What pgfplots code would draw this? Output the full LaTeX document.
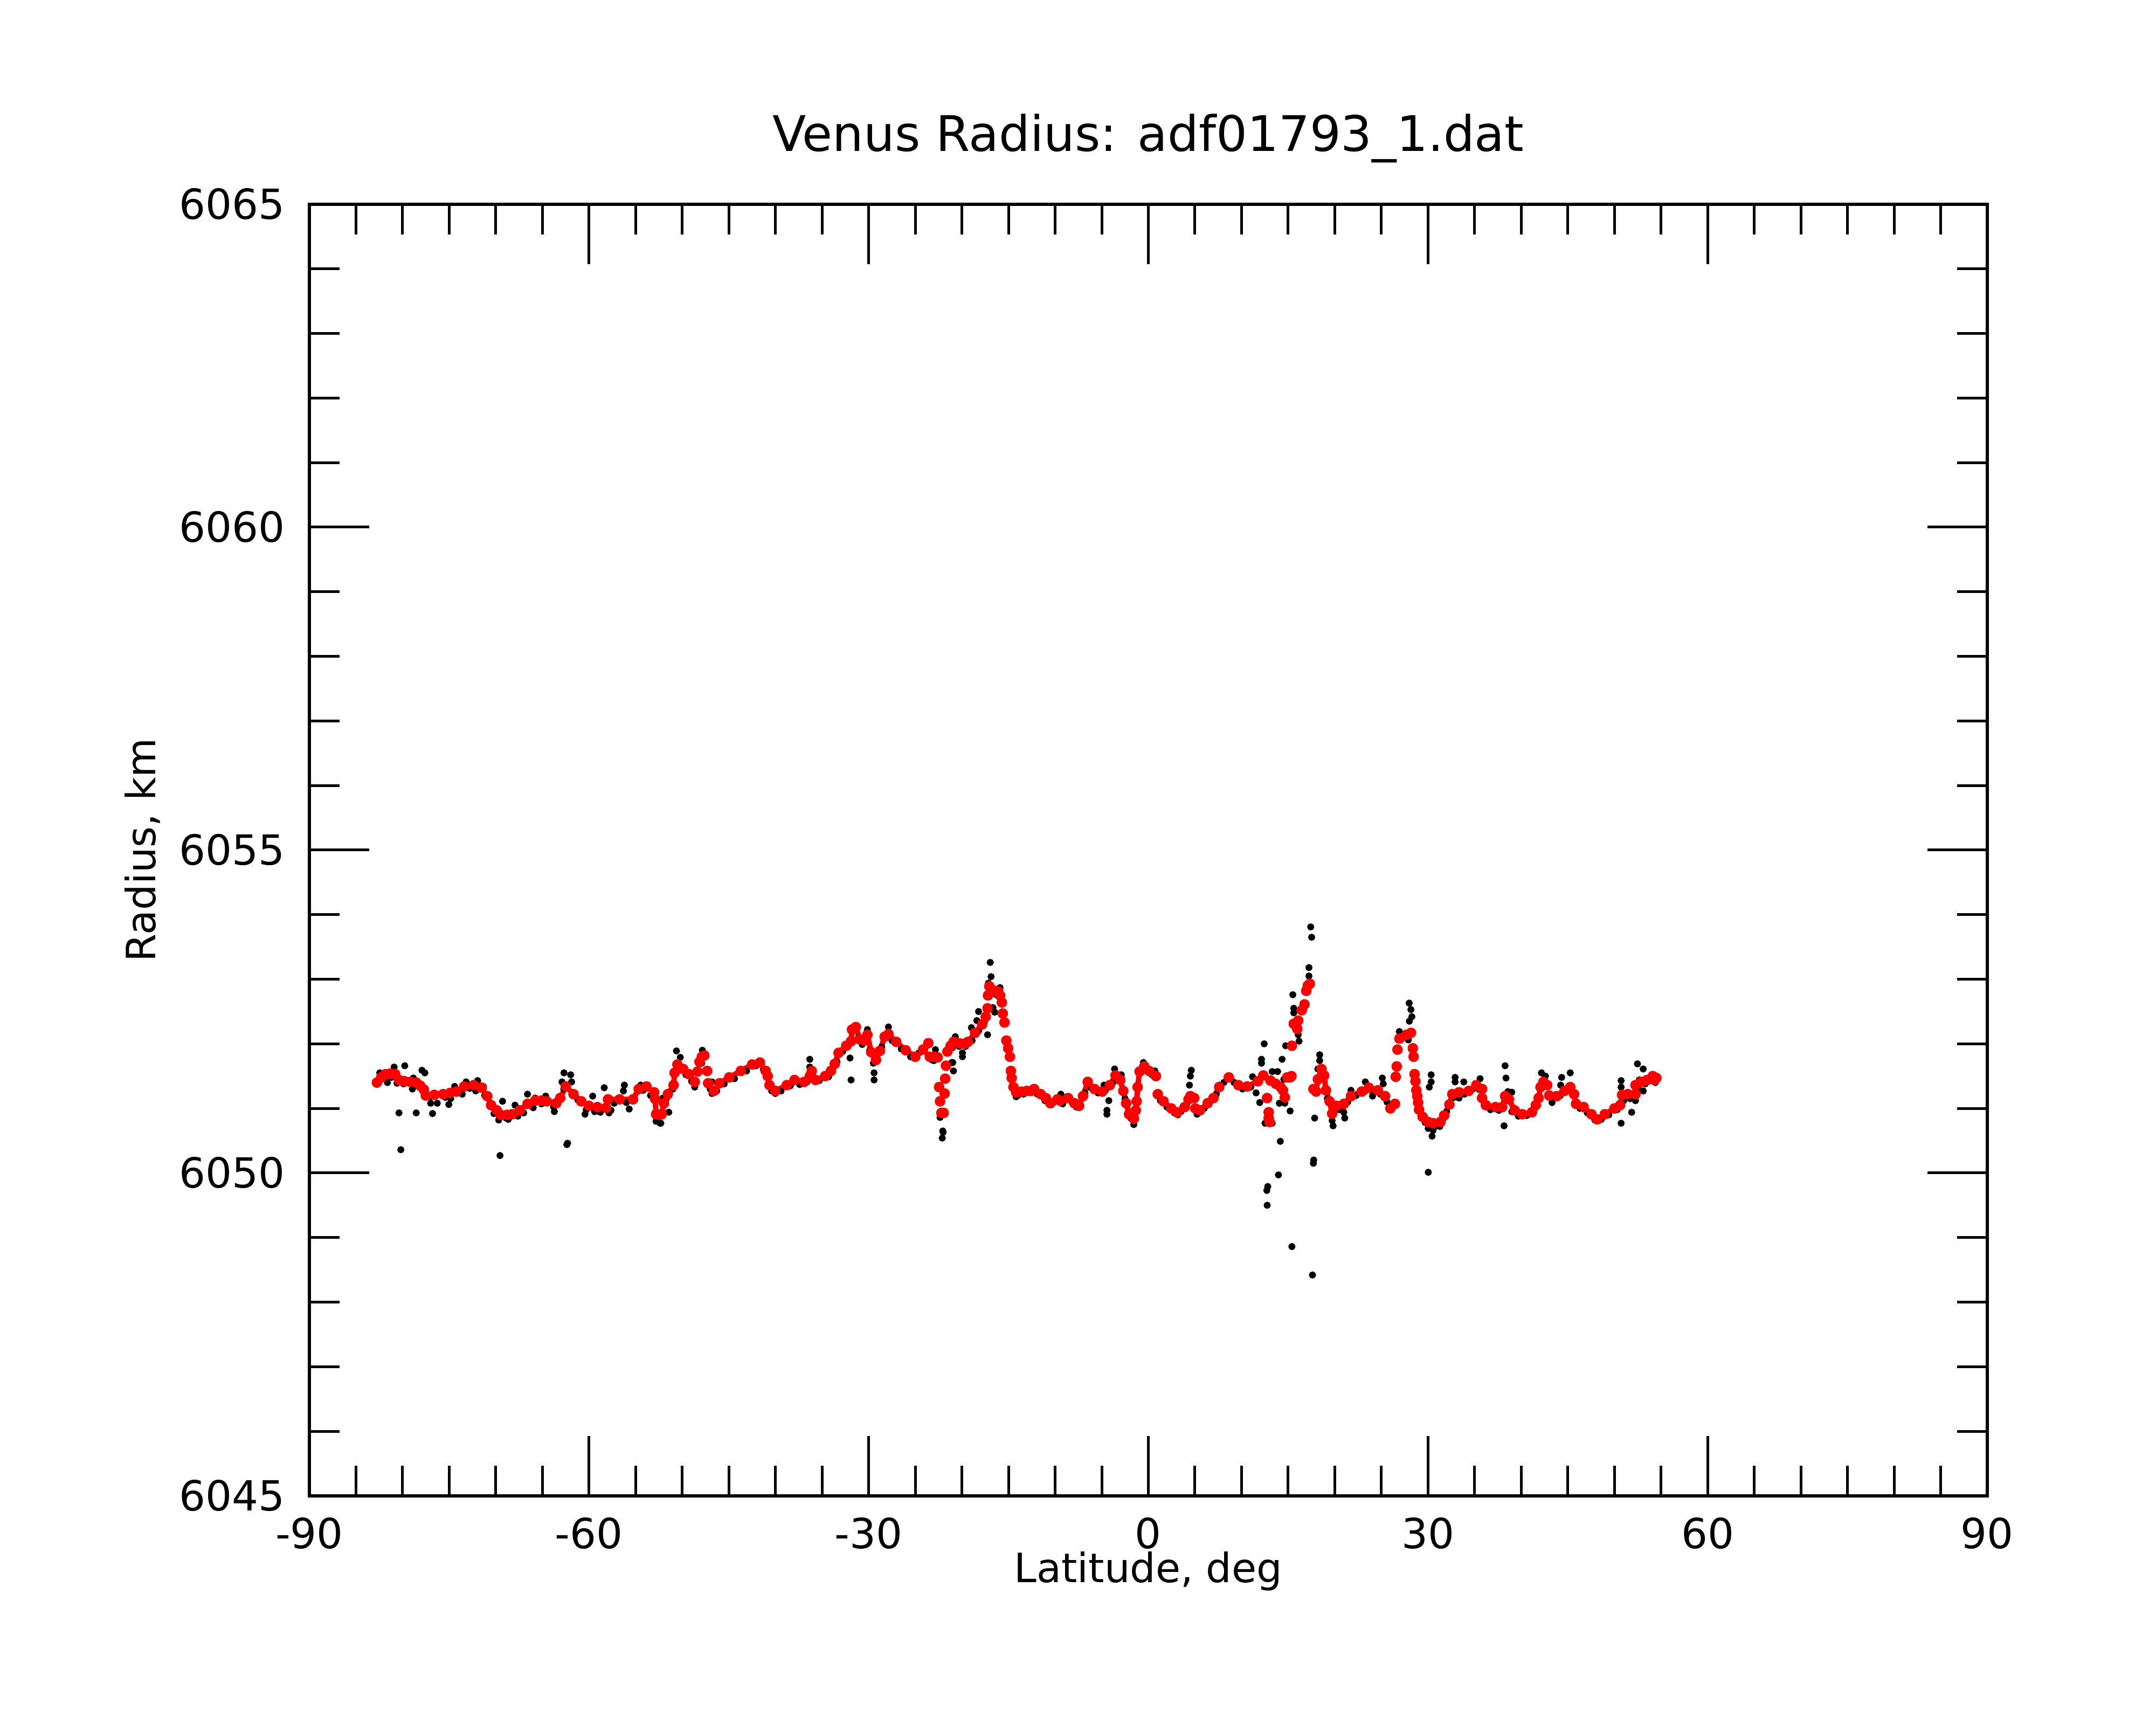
\documentclass[border=0pt]{standalone}
\usepackage{fontspec}
\setmainfont{DejaVu Sans}
\usepackage{pgfplots}
\pgfplotsset{compat=1.18}
\usepackage{pgfplotstable}

\pgfplotstableread{
x y
-82.76 6051.40
-82.30 6051.48
-81.83 6051.53
-81.30 6051.54
-80.80 6051.53
-80.39 6051.44
-79.80 6051.42
-79.16 6051.41
-78.54 6051.40
-78.10 6051.35
-77.72 6051.29
-77.51 6051.20
-76.60 6051.21
-75.66 6051.22
-74.90 6051.24
-74.22 6051.26
-73.39 6051.34
-72.37 6051.36
-71.54 6051.32
-70.92 6051.19
-70.51 6051.05
-69.90 6050.97
-69.48 6050.90
-68.80 6050.90
-68.25 6050.91
-67.43 6050.97
-66.60 6051.07
-65.78 6051.12
-65.10 6051.12
-64.54 6051.11
-63.52 6051.08
-63.10 6051.16
-62.49 6051.34
-61.66 6051.22
-60.84 6051.11
-60.02 6051.04
-59.10 6051.02
-58.17 6051.01
-57.96 6051.14
-56.72 6051.14
-55.28 6051.14
-54.67 6051.30
-53.84 6051.34
-53.02 6051.25
-52.92 6051.15
-52.81 6050.91
-52.50 6050.90
-52.20 6050.91
-51.96 6051.08
-51.55 6051.22
-50.93 6051.36
-50.82 6051.55
-50.52 6051.68
-49.90 6051.61
-49.28 6051.53
-48.66 6051.41
nan nan
-48.36 6051.57
nan nan
-48.15 6051.72
-47.90 6051.80
-47.63 6051.82
nan nan
-47.33 6051.58
nan nan
-47.22 6051.39
-46.61 6051.27
-45.99 6051.39
-44.96 6051.48
-43.72 6051.58
-42.49 6051.68
-41.67 6051.71
-41.05 6051.58
-40.84 6051.50
-40.64 6051.36
-40.02 6051.27
-38.79 6051.36
-37.96 6051.44
-36.93 6051.41
-36.32 6051.50
-36.11 6051.58
-35.70 6051.44
-34.67 6051.50
-34.05 6051.58
-33.64 6051.69
-33.23 6051.86
-32.41 6051.97
-31.89 6052.04
-31.79 6052.22
-31.38 6052.26
-30.96 6052.07
-30.45 6052.05
-30.14 6052.14
-29.73 6051.87
-29.22 6051.75
-28.80 6051.89
-28.29 6052.11
-27.88 6052.15
-27.05 6052.03
-26.03 6051.90
-25.00 6051.80
-24.17 6051.91
-23.60 6052.01
nan nan
-23.45 6051.80
-22.95 6051.80
-22.60 6051.79
nan nan
-22.45 6051.33
nan nan
-22.35 6051.11
nan nan
-22.20 6050.93
-21.95 6050.93
nan nan
-21.86 6051.23
nan nan
-21.80 6051.46
nan nan
-21.71 6051.66
nan nan
-21.55 6051.88
-21.20 6051.97
-20.90 6052.03
-20.30 6052.01
-19.75 6052.00
-19.36 6052.03
-18.59 6052.17
-17.83 6052.30
-17.44 6052.42
-17.25 6052.55
nan nan
-17.20 6052.75
-17.06 6052.89
-16.48 6052.82
-16.10 6052.81
-15.91 6052.75
nan nan
-15.71 6052.64
nan nan
-15.62 6052.47
nan nan
-15.43 6052.33
nan nan
-15.23 6052.05
nan nan
-15.04 6051.93
nan nan
-14.85 6051.80
nan nan
-14.75 6051.58
nan nan
-14.66 6051.47
nan nan
-14.47 6051.33
-14.18 6051.25
-13.60 6051.26
-13.03 6051.27
-12.57 6051.27
-12.26 6051.30
-11.54 6051.22
-11.00 6051.16
-10.51 6051.08
-9.76 6051.14
-9.48 6051.12
-8.61 6051.16
-7.93 6051.08
-7.43 6051.04
-7.01 6051.19
-6.50 6051.41
-5.78 6051.30
-4.96 6051.26
-4.13 6051.36
-3.52 6051.51
-3.00 6051.44
-2.69 6051.27
-2.38 6051.08
-2.07 6050.91
-1.56 6050.84
-1.35 6050.97
-1.25 6051.11
-1.15 6051.33
-0.94 6051.57
-0.43 6051.65
0.09 6051.58
0.81 6051.50
nan nan
1.01 6051.22
1.63 6051.11
2.45 6051.00
3.07 6050.94
3.89 6051.02
4.31 6051.14
4.51 6051.19
4.92 6051.16
nan nan
5.03 6051.00
5.54 6050.97
6.36 6051.08
6.98 6051.16
7.60 6051.33
8.63 6051.48
9.66 6051.36
10.60 6051.34
11.75 6051.42
12.33 6051.51
13.10 6051.43
13.67 6051.38
14.18 6051.33
14.44 6051.28
14.64 6051.17
nan nan
14.90 6051.48
15.21 6051.48
15.35 6051.50
nan nan
15.40 6051.97
nan nan
15.60 6052.31
15.98 6052.23
16.08 6052.36
nan nan
16.46 6052.52
nan nan
16.75 6052.61
nan nan
16.94 6052.82
17.10 6052.90
17.32 6052.93
nan nan
17.71 6051.30
18.00 6051.26
18.19 6051.45
18.57 6051.61
18.86 6051.51
19.05 6051.28
19.44 6051.11
19.72 6050.92
20.20 6051.04
20.97 6051.07
21.74 6051.19
22.89 6051.26
23.66 6051.32
24.62 6051.28
25.39 6051.19
25.97 6051.00
26.45 6051.07
nan nan
26.54 6051.49
nan nan
26.64 6051.65
nan nan
26.73 6051.91
nan nan
26.93 6052.08
27.69 6052.14
28.17 6052.17
nan nan
28.37 6051.93
nan nan
28.46 6051.80
nan nan
28.56 6051.53
nan nan
28.65 6051.42
nan nan
28.75 6051.28
nan nan
28.85 6051.19
nan nan
28.94 6051.09
nan nan
29.04 6050.98
29.42 6050.87
30.00 6050.79
30.58 6050.77
31.34 6050.79
31.73 6050.89
32.30 6051.06
32.61 6051.22
33.33 6051.25
34.36 6051.27
35.18 6051.36
35.80 6051.30
nan nan
35.80 6051.16
36.21 6051.05
37.24 6051.02
37.96 6051.02
38.27 6051.19
38.68 6051.14
39.29 6050.97
40.12 6050.91
41.15 6050.94
41.56 6051.05
41.87 6051.16
42.07 6051.33
42.38 6051.41
42.79 6051.36
nan nan
43.00 6051.20
43.82 6051.19
44.64 6051.27
45.26 6051.33
45.67 6051.22
45.88 6051.07
46.70 6051.02
47.53 6050.91
48.15 6050.83
48.97 6050.91
50.00 6051.00
50.61 6051.05
50.82 6051.21
51.44 6051.22
52.26 6051.22
52.26 6051.36
52.88 6051.41
53.50 6051.44
54.11 6051.50
54.32 6051.44
54.50 6051.47
nan nan
12.74 6051.16
nan nan
12.91 6050.94
nan nan
12.91 6050.85
nan nan
13.00 6050.79
}\redtab

\pgfplotstableread{
x y
-82.60 6051.42
-81.20 6051.48
-79.90 6051.38
-77.00 6051.18
-75.40 6051.17
-73.90 6051.27
-72.80 6051.31
-71.20 6051.20
-70.20 6050.92
-68.90 6050.85
-67.90 6050.90
-66.20 6051.05
-65.10 6051.07
-63.80 6051.02
-62.70 6051.30
-61.20 6051.13
-60.30 6050.98
-59.10 6050.96
-57.30 6051.08
-56.00 6051.09
-54.20 6051.28
-53.40 6051.20
-52.50 6050.86
-51.70 6051.15
-51.00 6051.30
-50.30 6051.60
-49.60 6051.52
-49.00 6051.42
-47.90 6051.70
-47.00 6051.30
-46.30 6051.27
-45.50 6051.38
-44.40 6051.46
-43.10 6051.58
-42.10 6051.66
-41.30 6051.60
-40.40 6051.27
-39.40 6051.27
-38.40 6051.35
-37.40 6051.37
-36.60 6051.41
-35.30 6051.43
-34.30 6051.49
-33.40 6051.72
-32.80 6051.88
-32.20 6051.96
-31.10 6052.10
-30.70 6051.99
-29.90 6051.90
-29.50 6051.70
-28.60 6051.95
-27.50 6052.05
-26.50 6051.92
-25.50 6051.80
-24.60 6051.86
-23.90 6051.95
-23.00 6051.74
-21.00 6051.94
-20.30 6051.96
-19.60 6051.96
-18.90 6052.05
-18.20 6052.20
-17.60 6052.33
-16.80 6052.78
-16.30 6052.76
-15.80 6052.66
-14.00 6051.20
-13.40 6051.22
-12.60 6051.26
-11.90 6051.22
-11.10 6051.12
-10.20 6051.09
-9.10 6051.11
-8.20 6051.10
-7.70 6051.02
-6.80 6051.24
-6.20 6051.32
-5.40 6051.24
-4.60 6051.28
-3.80 6051.40
-3.30 6051.45
-2.50 6051.15
-1.90 6050.85
-1.40 6050.87
-0.70 6051.58
-0.20 6051.60
0.40 6051.52
1.30 6051.12
2.00 6051.02
2.80 6050.93
3.50 6050.95
4.10 6051.05
5.30 6050.93
6.00 6051.00
6.60 6051.10
7.30 6051.22
8.10 6051.40
9.20 6051.40
10.10 6051.30
11.00 6051.33
19.20 6051.15
20.50 6050.98
21.40 6051.10
22.30 6051.20
23.20 6051.26
24.00 6051.27
24.90 6051.22
25.60 6051.10
27.20 6052.08
29.70 6050.78
30.30 6050.74
30.90 6050.73
31.60 6050.83
32.00 6050.95
32.80 6051.17
33.90 6051.22
34.80 6051.30
35.50 6051.29
36.00 6051.10
36.70 6050.98
37.60 6050.97
38.50 6051.12
39.00 6050.95
39.70 6050.88
40.60 6050.89
41.40 6050.98
42.20 6051.35
42.60 6051.35
43.40 6051.15
44.20 6051.20
44.90 6051.27
45.50 6051.26
46.30 6051.00
47.10 6050.93
47.90 6050.82
48.60 6050.83
49.40 6050.90
50.30 6050.98
51.00 6051.12
51.70 6051.15
52.60 6051.30
53.30 6051.38
53.90 6051.45
54.40 6051.40
-82.45 6051.55
-81.63 6051.40
-80.91 6051.64
-80.60 6051.39
-80.39 6050.93
-80.19 6050.36
-79.77 6051.66
-78.95 6051.30
-78.85 6051.47
-78.54 6050.93
-77.92 6051.59
-77.61 6051.55
-76.99 6051.08
-76.79 6050.92
-76.28 6051.08
-75.04 6051.06
-74.84 6051.15
-74.42 6051.34
-73.60 6051.22
-73.19 6051.41
-72.16 6051.27
-71.95 6051.43
-71.34 6051.34
-70.10 6050.94
-69.69 6050.82
-69.55 6050.27
-69.28 6051.11
-68.66 6050.83
-67.94 6051.05
-67.63 6050.88
-67.01 6050.93
-66.60 6051.22
-65.99 6051.01
-65.78 6051.16
-64.65 6051.19
-63.72 6050.95
-62.90 6051.41
-62.69 6051.55
-62.38 6050.44
-62.30 6050.46
-61.97 6051.52
-61.87 6051.41
-60.43 6050.91
-59.61 6051.19
-59.40 6050.95
-58.78 6050.94
-58.37 6051.32
-57.86 6050.93
-57.65 6050.97
-56.31 6051.27
-56.21 6051.36
-55.69 6050.99
-54.46 6051.36
-52.81 6050.80
-52.37 6050.77
-52.30 6050.77
-52.06 6051.16
-51.89 6051.16
-51.44 6050.94
-50.62 6051.89
-50.21 6051.79
-48.66 6051.33
-47.84 6051.90
-46.81 6051.41
-46.81 6051.23
-40.43 6051.30
-40.02 6051.23
-36.32 6051.76
-36.32 6051.64
-32.00 6051.78
-31.89 6051.44
-30.14 6052.22
-29.42 6051.55
-29.42 6051.44
-27.88 6052.26
-23.20 6051.75
-22.84 6051.91
-22.34 6050.86
-22.11 6050.54
-22.05 6050.65
-22.01 6050.63
-21.09 6051.71
-20.98 6051.71
-20.90 6051.58
-20.71 6052.11
-19.94 6051.80
-19.94 6051.86
-18.98 6052.25
-18.40 6052.36
-18.21 6052.50
-17.25 6052.14
-17.15 6052.94
-16.96 6053.26
-16.87 6053.04
-16.67 6052.56
-16.48 6052.49
-15.91 6052.87
-14.18 6051.18
-9.38 6051.22
-9.19 6051.07
-4.75 6051.36
-4.44 6050.97
-4.44 6050.91
-4.24 6051.12
-3.62 6051.61
-2.90 6051.52
-1.56 6050.75
-0.53 6051.71
0.70 6051.58
3.17 6050.90
4.41 6051.36
4.51 6051.50
4.61 6051.59
5.23 6050.91
7.60 6051.36
8.74 6051.50
11.18 6051.49
11.56 6051.24
11.95 6051.09
12.14 6051.76
12.14 6051.70
12.43 6052.00
12.52 6050.77
12.71 6049.73
12.75 6049.50
12.81 6049.79
13.29 6051.57
13.29 6050.77
13.87 6051.57
13.96 6049.97
14.06 6051.08
14.16 6050.49
14.35 6051.76
14.54 6051.45
14.64 6051.08
14.73 6051.97
15.21 6050.96
15.40 6048.86
15.50 6052.76
15.60 6052.55
15.60 6052.48
16.08 6052.14
16.17 6052.04
17.23 6053.18
17.23 6053.05
17.42 6053.81
17.52 6053.65
17.61 6048.42
17.71 6050.15
17.74 6050.20
17.84 6050.85
18.19 6051.61
18.38 6051.83
18.38 6051.74
19.72 6050.81
19.82 6050.73
20.97 6050.94
21.07 6050.85
21.74 6051.28
23.28 6051.41
24.05 6051.19
25.10 6051.47
25.20 6051.38
26.93 6052.19
27.89 6052.06
27.98 6052.63
28.17 6052.53
28.27 6052.42
28.00 6052.35
30.03 6050.01
30.03 6050.69
30.14 6051.33
30.34 6051.52
30.34 6051.41
30.44 6050.57
30.55 6050.66
31.27 6050.72
32.91 6051.48
32.91 6051.41
33.33 6051.16
33.84 6051.41
35.59 6051.46
38.16 6050.73
38.27 6051.66
38.37 6051.47
38.57 6051.26
38.99 6051.25
42.17 6051.55
42.59 6051.50
43.31 6051.09
44.23 6051.36
44.34 6051.48
45.26 6051.55
50.72 6051.43
50.72 6051.33
50.72 6050.77
51.85 6050.94
52.26 6051.12
52.47 6051.69
52.67 6051.44
53.09 6051.61
53.09 6051.27
}\blacktab

\begin{document}
\begin{tikzpicture}
\useasboundingbox (-57.4pt,-42.5pt) rectangle (342.6pt,277.5pt);
\begin{axis}[
  at={(0pt,0pt)}, anchor=south west,
  scale only axis, width=311.3pt, height=239.6pt,
  xmin=-90, xmax=90, ymin=6045, ymax=6065,
  xtick={-90,-60,...,90}, ytick={6045,6050,...,6065},
  minor x tick num=5, minor y tick num=4,
  tick align=inside, xtick pos=both, ytick pos=both,
  xticklabel pos=lower, yticklabel pos=left,
  major tick length=11.1pt, minor tick length=5.6pt,
  axis line style={line width=0.55pt},
  every tick/.style={black, line width=0.5pt},
  /pgf/number format/assume math mode=true,
  /pgf/number format/1000 sep={},
  scaled ticks=false,
  tick label style={font=\fontsize{7.7}{9}\selectfont},
  xticklabel style={yshift=-0.5pt},
  yticklabel style={xshift=-1.0pt},
  unbounded coords=jump,
  title={Venus Radius: adf01793\_1.dat},
  every axis title/.style={at={(axis description cs:0.5,1.0409)}, anchor=base, font=\fontsize{9.1}{11}\selectfont},
  xlabel={Latitude, deg},
  every axis x label/.style={at={(axis description cs:0.5,-0.0672)}, anchor=base, font=\fontsize{7.5}{9}\selectfont},
  ylabel={Radius, km},
  every axis y label/.style={at={(axis description cs:-0.0993,0.5)}, rotate=90, anchor=center, font=\fontsize{7.5}{9}\selectfont},
]
\addplot[only marks, mark=*, mark size=0.45pt, black, mark options={draw=none, fill=black}] table[x=x, y=y] {\blacktab};
\addplot[red, line width=1.0pt, line cap=round, line join=round, mark=*, mark size=0.5pt, mark options={draw=none, fill=red}] table[x=x, y=y] {\redtab};
\end{axis}
\end{tikzpicture}
\end{document}
